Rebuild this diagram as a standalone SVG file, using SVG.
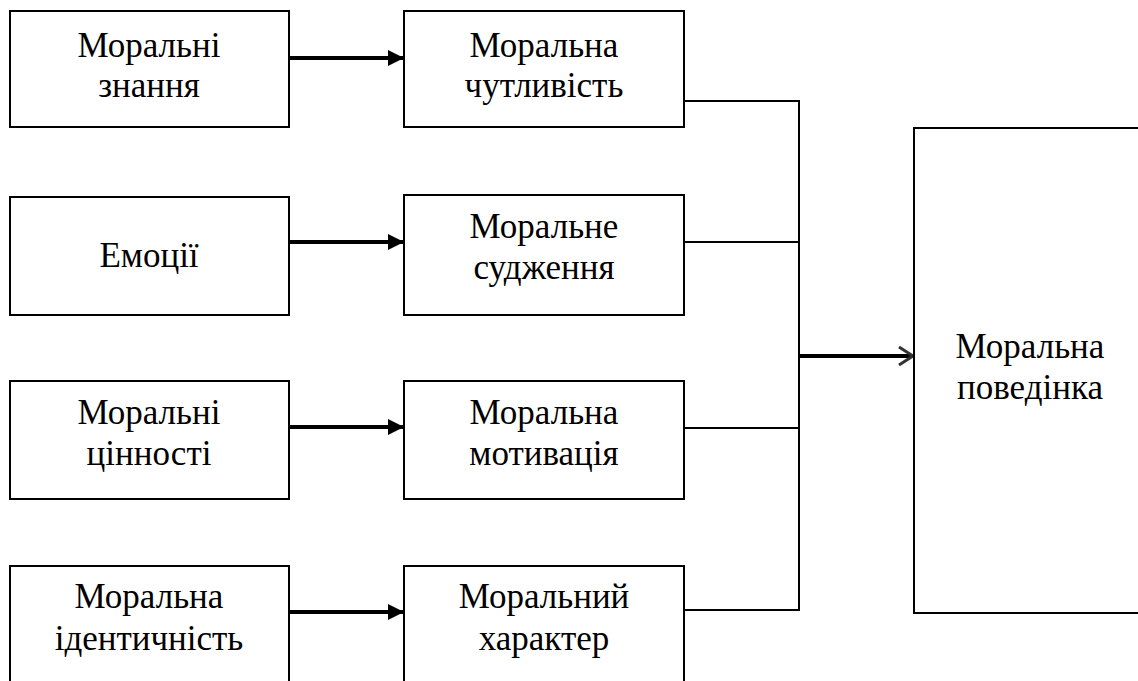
<svg xmlns="http://www.w3.org/2000/svg" width="1138" height="681" viewBox="0 0 1138 681">
<style>
.box{fill:#fff;stroke:#000;stroke-width:2}
.thin{fill:none;stroke:#000;stroke-width:2}
.thick{fill:none;stroke:#000;stroke-width:4}
</style>
<defs>
<marker id="tri" markerWidth="18" markerHeight="18" refX="16" refY="9" orient="auto" markerUnits="userSpaceOnUse">
<path d="M0,1 L16,9 L0,17 Z" fill="#000"/>
</marker>
<marker id="chev" markerWidth="20" markerHeight="24" refX="17" refY="12" orient="auto" markerUnits="userSpaceOnUse">
<path d="M3,3 L17,12 L3,21" fill="none" stroke="#333" stroke-width="3"/>
</marker>
</defs>
<rect width="1138" height="681" fill="#fff"/>
<g id="connectors">
<line class="thick" x1="289" y1="58" x2="404" y2="58" marker-end="url(#tri)"/>
<line class="thick" x1="289" y1="242" x2="404" y2="242" marker-end="url(#tri)"/>
<line class="thick" x1="289" y1="427" x2="404" y2="427" marker-end="url(#tri)"/>
<line class="thick" x1="289" y1="612" x2="404" y2="612" marker-end="url(#tri)"/>
<path class="thin" d="M684,101 H799 M684,242 H799 M684,428 H799 M684,610 H799 M799,100 V611"/>
<line class="thick" x1="799" y1="356" x2="913" y2="356" marker-end="url(#chev)"/>
</g>
<g id="n1"><rect class="box" x="10" y="11" width="279" height="116"/><text font-family="Times New Roman, Tinos, Liberation Serif, serif" font-size="35" text-anchor="middle" x="149" y="57">Моральні</text><text font-family="Times New Roman, Tinos, Liberation Serif, serif" font-size="35" text-anchor="middle" x="149" y="97">знання</text></g>
<g id="n2"><rect class="box" x="10" y="197" width="279" height="118"/><text font-family="Times New Roman, Tinos, Liberation Serif, serif" font-size="35" text-anchor="middle" x="149" y="267">Емоції</text></g>
<g id="n3"><rect class="box" x="10" y="381" width="279" height="118"/><text font-family="Times New Roman, Tinos, Liberation Serif, serif" font-size="35" text-anchor="middle" x="149" y="424">Моральні</text><text font-family="Times New Roman, Tinos, Liberation Serif, serif" font-size="35" text-anchor="middle" x="149" y="465">цінності</text></g>
<g id="n4"><rect class="box" x="10" y="566" width="279" height="125"/><text font-family="Times New Roman, Tinos, Liberation Serif, serif" font-size="35" text-anchor="middle" x="149" y="608">Моральна</text><text font-family="Times New Roman, Tinos, Liberation Serif, serif" font-size="35" text-anchor="middle" x="149" y="650">ідентичність</text></g>
<g id="m1"><rect class="box" x="404" y="11" width="280" height="116"/><text font-family="Times New Roman, Tinos, Liberation Serif, serif" font-size="35" text-anchor="middle" x="544" y="57">Моральна</text><text font-family="Times New Roman, Tinos, Liberation Serif, serif" font-size="35" text-anchor="middle" x="544" y="97">чутливість</text></g>
<g id="m2"><rect class="box" x="404" y="195" width="280" height="120"/><text font-family="Times New Roman, Tinos, Liberation Serif, serif" font-size="35" text-anchor="middle" x="544" y="238">Моральне</text><text font-family="Times New Roman, Tinos, Liberation Serif, serif" font-size="35" text-anchor="middle" x="544" y="279">судження</text></g>
<g id="m3"><rect class="box" x="404" y="381" width="280" height="118"/><text font-family="Times New Roman, Tinos, Liberation Serif, serif" font-size="35" text-anchor="middle" x="544" y="424">Моральна</text><text font-family="Times New Roman, Tinos, Liberation Serif, serif" font-size="35" text-anchor="middle" x="544" y="465">мотивація</text></g>
<g id="m4"><rect class="box" x="404" y="566" width="280" height="125"/><text font-family="Times New Roman, Tinos, Liberation Serif, serif" font-size="35" text-anchor="middle" x="544" y="608">Моральний</text><text font-family="Times New Roman, Tinos, Liberation Serif, serif" font-size="35" text-anchor="middle" x="544" y="650">характер</text></g>
<g id="out"><rect class="box" x="914" y="128" width="240" height="485"/><text font-family="Times New Roman, Tinos, Liberation Serif, serif" font-size="35" text-anchor="middle" x="1030" y="358">Моральна</text><text font-family="Times New Roman, Tinos, Liberation Serif, serif" font-size="35" text-anchor="middle" x="1030" y="399">поведінка</text></g>
</svg>
